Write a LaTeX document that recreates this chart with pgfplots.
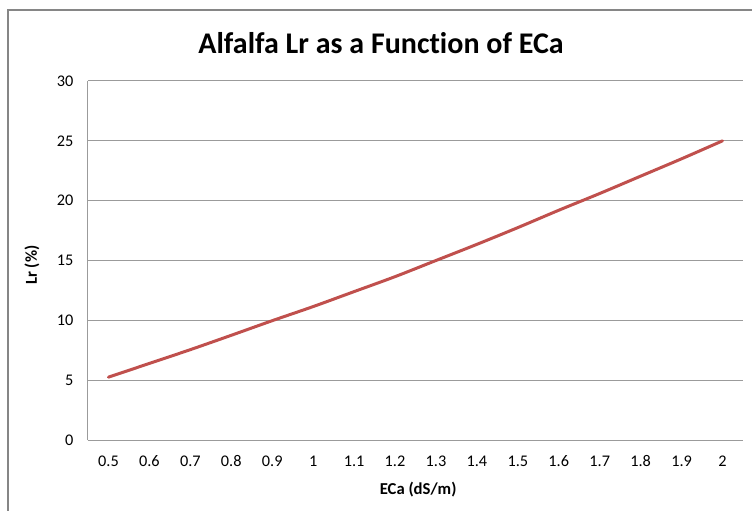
\documentclass[border=0pt]{standalone}
\usepackage{pgfplots}
\pgfplotsset{compat=1.18}
\usepackage{fontspec}
\setmainfont{Carlito}[Ligatures={NoCommon}]
\definecolor{linered}{RGB}{192,80,77}
\definecolor{gridgray}{RGB}{155,155,155}
\definecolor{bordergray}{RGB}{134,134,134}
\begin{document}
\begin{tikzpicture}
\useasboundingbox (-66pt,-52.5pt) rectangle (498pt,330pt);
\draw[bordergray, line width=1pt] (-60pt,-60pt) -- (-60pt,322.5pt) -- (510pt,322.5pt);
\begin{axis}[
  at={(0pt,0pt)}, anchor=south west,
  scale only axis, width=491.25pt, height=269.25pt,
  xmin=-0.5, xmax=15.5, ymin=0, ymax=30,
  xtick={0,...,15},
  xticklabels={0.5,0.6,0.7,0.8,0.9,1,1.1,1.2,1.3,1.4,1.5,1.6,1.7,1.8,1.9,2},
  ytick={0,5,...,30},
  axis x line=bottom, axis y line=left,
  axis line style={-, gridgray, line width=0.75pt},
  ymajorgrids, grid style={gridgray, line width=0.75pt},
  major tick length=0pt,
  /pgf/number format/assume math mode=true,
  tick label style={font=\fontsize{12.2}{14}\selectfont, text=black},
  xticklabel style={anchor=base, yshift=-19.5pt},
  yticklabel style={xshift=-7.5pt},
  xlabel={\textbf{ECa (dS/m)}},
  ylabel={\textbf{Lr (\%)}},
  label style={font=\fontsize{12.5}{14}\selectfont},
  xlabel style={at={(axis description cs:0.504,-0.139)}, anchor=center},
  ylabel style={at={(axis description cs:-0.0855,0.487)}, anchor=center},
  clip=false,
]
\addplot[linered, line width=2.25pt, smooth, line cap=round] coordinates {
(0,5.25) (1,6.40) (2,7.55) (3,8.75) (4,9.97) (5,11.15) (6,12.40) (7,13.65)
(8,15.00) (9,16.35) (10,17.75) (11,19.20) (12,20.60) (13,22.05) (14,23.50) (15,25.00)
};
\end{axis}
\node[font=\bfseries\fontsize{22.5}{26}\selectfont] at (219.75pt,297.75pt) {Alfalfa Lr as a Function of ECa};
\end{tikzpicture}
\end{document}
